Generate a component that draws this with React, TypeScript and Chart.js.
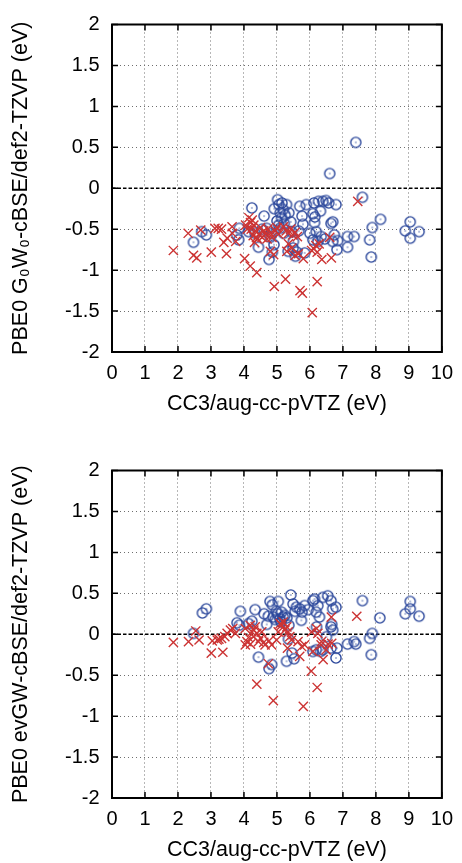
import React, { useEffect, useRef } from "react";
import { Chart, registerables } from "chart.js";

Chart.register(...registerables);

// ---------- data ----------
const xTickLabels = ["0", "1", "2", "3", "4", "5", "6", "7", "8", "9", "10"];
const yTickLabels = ["-2", "-1.5", "-1", "-0.5", "0", "0.5", "1", "1.5", "2"];

const xTitle = "CC3/aug-cc-pVTZ (eV)";
const topYTitle = "PBE0 G\u2080W\u2080-cBSE/def2-TZVP (eV)";
const bottomYTitle = "PBE0 evGW-cBSE/def2-TZVP (eV)";

// Top panel (G0W0): circles
const topCircles: [number, number][] = [
  [2.47, -0.66], [2.72, -0.53], [2.86, -0.57], [3.78, -0.57], [3.84, -0.63], [3.86, -0.49],
  [4.14, -0.53], [4.24, -0.24], [4.34, -0.55], [4.44, -0.72], [4.61, -0.34], [4.69, -0.49],
  [4.76, -0.87], [4.84, -0.55], [4.86, -0.78], [4.91, -0.69], [4.92, -0.25], [5.02, -0.14],
  [5.06, -0.2], [5.09, -0.49], [5.14, -0.36], [5.19, -0.26], [5.22, -0.43], [5.29, -0.2],
  [5.36, -0.3], [5.42, -0.41], [5.34, -0.77], [5.44, -0.53], [5.49, -0.73], [5.56, -0.83],
  [5.5, -0.65], [5.69, -0.22], [5.76, -0.34], [5.79, -0.44], [5.66, -0.52], [5.84, -0.79],
  [5.89, -0.2], [6.09, -0.31], [6.12, -0.18], [6.26, -0.16], [6.14, -0.42], [6.19, -0.53],
  [6.09, -0.63], [6.24, -0.65], [6.32, -0.28], [6.39, -0.16], [6.49, -0.15], [6.57, -0.18],
  [6.79, -0.2], [6.6, 0.18], [6.64, -0.43], [6.69, -0.41], [6.74, -0.57], [6.69, -0.65],
  [6.82, -0.75], [6.84, -0.64], [6.34, -0.59], [7.14, -0.59], [7.14, -0.72], [7.34, -0.59],
  [7.39, 0.56], [7.59, -0.11], [7.81, -0.63], [7.86, -0.84], [7.89, -0.48], [8.14, -0.38],
  [8.89, -0.52], [9.04, -0.41], [9.04, -0.61], [9.31, -0.53], [5.1, -0.3], [5.0, -0.4],
  [4.8, -0.6], [5.2, -0.55], [6.0, -0.55], [6.15, -0.35], [5.05, -0.45], [5.25, -0.33],
  [4.55, -0.5], [5.6, -0.78], [6.45, -0.62], [5.15, -0.18],
];

// Top panel (G0W0): crosses
const topCrosses: [number, number][] = [
  [1.86, -0.76], [2.31, -0.55], [2.47, -0.82], [2.57, -0.85], [2.69, -0.51], [3.01, -0.78],
  [3.12, -0.49], [3.22, -0.49], [3.32, -0.5], [3.39, -0.66], [3.47, -0.8], [3.49, -0.61],
  [3.64, -0.47], [3.65, -0.55], [3.75, -0.65], [4.02, -0.86], [4.19, -0.95], [4.39, -1.03],
  [4.15, -0.36], [4.2, -0.42], [4.25, -0.39], [4.3, -0.45], [4.22, -0.5], [4.35, -0.52],
  [4.28, -0.58], [4.4, -0.62], [4.32, -0.66], [4.45, -0.56], [4.5, -0.48], [4.55, -0.6],
  [4.1, -0.5], [4.05, -0.45], [4.6, -0.52], [4.65, -0.56], [4.72, -0.5], [4.8, -0.55],
  [4.85, -0.6], [4.95, -0.52], [5.0, -0.48], [5.05, -0.56], [4.8, -0.77], [4.9, -0.81],
  [4.92, -1.2], [5.26, -1.11], [5.2, -0.47], [5.28, -0.52], [5.35, -0.55], [5.42, -0.5],
  [5.48, -0.57], [5.55, -0.54], [5.62, -0.59], [5.35, -0.68], [5.3, -0.77], [5.45, -0.73],
  [5.55, -0.82], [5.65, -0.8], [5.8, -0.86], [5.7, -1.25], [5.77, -1.28], [6.05, -0.76],
  [6.12, -0.74], [6.18, -0.7], [6.22, -0.78], [6.28, -0.68], [6.22, -1.14], [6.07, -1.52],
  [6.36, -0.87], [6.65, -0.85], [6.6, -0.6], [7.45, -0.16], [4.38, -0.6], [4.7, -0.62],
];

// Bottom panel (evGW): circles
const bottomCircles: [number, number][] = [
  [2.47, 0.01], [2.74, 0.26], [2.86, 0.31], [3.79, 0.14], [3.86, 0.11], [3.89, 0.28],
  [4.14, 0.13], [4.24, 0.16], [4.34, 0.3], [4.44, -0.28], [4.61, 0.25], [4.69, 0.12],
  [4.76, -0.42], [4.84, -0.37], [4.79, 0.4], [4.86, 0.36], [4.89, 0.21], [4.95, 0.18],
  [5.04, 0.4], [5.02, 0.25], [5.09, 0.19], [5.14, 0.27], [5.19, 0.21], [5.24, 0.23],
  [5.29, -0.33], [5.36, 0.11], [5.42, 0.48], [5.49, 0.37], [5.46, -0.23], [5.52, -0.3],
  [5.59, 0.33], [5.69, 0.31], [5.76, 0.27], [5.74, 0.17], [5.84, 0.35], [5.95, 0.3],
  [6.09, 0.41], [6.14, 0.43], [6.19, 0.27], [6.24, 0.35], [6.29, 0.21], [6.39, 0.45],
  [6.54, 0.47], [6.64, 0.41], [6.69, 0.31], [6.79, 0.33], [6.66, 0.12], [6.69, 0.05],
  [6.64, 0.09], [6.5, -0.03], [6.19, -0.19], [6.09, -0.21], [6.32, -0.21], [6.39, -0.19],
  [6.82, -0.17], [6.79, -0.29], [6.64, -0.17], [7.14, -0.12], [7.34, -0.09], [7.39, -0.12],
  [7.59, 0.41], [7.81, -0.05], [7.89, 0.01], [7.86, -0.25], [8.12, 0.2], [8.89, 0.25],
  [9.04, 0.4], [9.04, 0.31], [9.31, 0.22], [5.3, 0.2], [5.12, 0.15], [4.98, 0.28],
  [4.74, 0.22], [5.55, 0.28], [6.2, 0.09], [5.35, -0.06],
];

// Bottom panel (evGW): crosses
const bottomCrosses: [number, number][] = [
  [1.86, -0.1], [2.32, -0.09], [2.54, 0.04], [2.64, -0.07], [3.01, -0.23], [3.04, -0.08],
  [3.19, -0.07], [3.24, -0.06], [3.36, -0.22], [3.32, -0.05], [3.42, -0.03], [3.49, 0.01],
  [3.59, 0.05], [3.66, 0.07], [3.74, 0.01], [4.04, 0.07], [4.09, -0.09], [4.04, -0.13],
  [4.19, 0.11], [4.24, 0.03], [4.29, -0.03], [4.34, 0.09], [4.39, 0.01], [4.44, -0.09],
  [4.54, 0.03], [4.14, -0.04], [4.39, -0.61], [4.64, -0.13], [4.74, -0.36], [4.76, -0.08],
  [4.84, -0.13], [4.89, -0.81], [4.99, -0.07], [5.04, 0.03], [5.1, 0.13], [5.14, 0.11],
  [5.19, 0.15], [5.24, 0.05], [5.32, -0.17], [5.34, 0.03], [5.39, -0.03], [5.44, -0.07],
  [5.3, 0.09], [5.64, -0.09], [5.75, -0.15], [5.69, -0.27], [5.8, -0.88], [5.84, -0.13],
  [6.04, -0.45], [6.05, 0.03], [6.2, 0.07], [6.09, -0.21], [6.22, -0.65], [6.24, 0.01],
  [6.34, -0.13], [6.35, -0.09], [6.4, -0.31], [6.49, -0.19], [6.55, -0.12], [6.65, 0.21],
  [6.66, -0.11], [7.42, 0.22], [4.2, -0.12], [4.5, -0.05], [4.6, -0.1], [4.3, 0.05],
];

const zeroLine: [number, number][] = [[0, 0], [10, 0]];

// ---------- styles ----------
const BLUE = "rgb(44,72,156)";
const RED = "rgb(204,52,52)";
const FONT = "'Liberation Sans', Arial, Helvetica, sans-serif";

function makeCircleImage(): HTMLCanvasElement {
  const c = document.createElement("canvas");
  c.width = 14;
  c.height = 14;
  const g = c.getContext("2d")!;
  g.strokeStyle = BLUE;
  g.lineWidth = 1.4;
  g.beginPath();
  g.arc(7, 7, 5.1, 0, Math.PI * 2);
  g.stroke();
  g.fillStyle = BLUE;
  g.fillRect(6.4, 6.4, 1.2, 1.2);
  return c;
}

const framePlugin = {
  id: "gnuplotFrame",
  afterDatasetsDraw(chart: any) {
    const { ctx, chartArea: a, scales } = chart;
    const tl = 6;
    ctx.save();
    ctx.strokeStyle = "#000";
    ctx.lineWidth = 1.5;
    ctx.beginPath();
    scales.x.ticks.forEach((t: any) => {
      const px = scales.x.getPixelForValue(t.value);
      ctx.moveTo(px, a.bottom);
      ctx.lineTo(px, a.bottom - tl);
      ctx.moveTo(px, a.top);
      ctx.lineTo(px, a.top + tl);
    });
    scales.y.ticks.forEach((t: any) => {
      const py = scales.y.getPixelForValue(t.value);
      ctx.moveTo(a.left, py);
      ctx.lineTo(a.left + tl, py);
      ctx.moveTo(a.right, py);
      ctx.lineTo(a.right - tl, py);
    });
    ctx.stroke();
    ctx.lineWidth = 2;
    ctx.strokeRect(a.left, a.top, a.right - a.left, a.bottom - a.top);
    ctx.restore();
  },
};

const toXY = (arr: [number, number][]) => arr.map(([x, y]) => ({ x, y }));

function Panel({ circles, crosses, yTitle }: { circles: [number, number][]; crosses: [number, number][]; yTitle: string }) {
  const ref = useRef<HTMLCanvasElement | null>(null);
  useEffect(() => {
    if (!ref.current) return;
    const circleImg = makeCircleImage();
    const chart = new Chart(ref.current, {
      type: "scatter",
      data: {
        datasets: [
          {
            label: "crosses",
            data: toXY(crosses),
            pointStyle: "crossRot",
            pointRadius: 6.5,
            borderColor: RED,
            backgroundColor: RED,
            borderWidth: 1.4,
          } as any,
          {
            label: "circles",
            data: toXY(circles),
            pointStyle: circleImg,
            pointRadius: 5,
            borderColor: BLUE,
            backgroundColor: BLUE,
          } as any,
          {
            type: "line",
            label: "zero",
            data: toXY(zeroLine),
            showLine: true,
            borderColor: "#000",
            borderWidth: 1.6,
            borderDash: [3.5, 2],
            pointRadius: 0,
            fill: false,
          } as any,
        ],
      },
      options: {
        responsive: false,
        animation: false,
        events: [],
        layout: { padding: { top: 21, right: 17, left: 0, bottom: 0 } },
        plugins: { legend: { display: false }, tooltip: { enabled: false } },
        scales: {
          x: {
            type: "linear",
            min: 0,
            max: 10,
            afterFit: (s: any) => { s.height = 94; },
            ticks: {
              stepSize: 1,
              color: "#000",
              padding: 9,
              font: { family: FONT, size: 20 },
              callback: (_v: any, i: number) => xTickLabels[i],
            },
            grid: { color: "#6e6e6e", lineWidth: 1, drawTicks: false },
            border: { display: false, dash: [1, 3] },
            title: {
              display: true,
              text: xTitle,
              color: "#000",
              font: { family: FONT, size: 21.5 },
              padding: { top: 0, bottom: 29 },
            },
          },
          y: {
            type: "linear",
            min: -2,
            max: 2,
            afterFit: (s: any) => { s.width = 112; },
            ticks: {
              stepSize: 0.5,
              color: "#000",
              padding: 12.5,
              font: { family: FONT, size: 20 },
              callback: (_v: any, i: number) => yTickLabels[i],
            },
            grid: {
              color: (c: any) => (c.tick && c.tick.value === 0 ? "rgba(0,0,0,0)" : "#6e6e6e"),
              lineWidth: 1,
              drawTicks: false,
            },
            border: { display: false, dash: [1, 3] },
            title: {
              display: true,
              text: yTitle,
              color: "#000",
              font: { family: FONT, size: 21.5 },
              padding: { top: 8, bottom: 0 },
            },
          },
        },
      } as any,
      plugins: [framePlugin],
    });
    return () => chart.destroy();
  }, [circles, crosses, yTitle]);
  return <canvas ref={ref} width={462} height={446} style={{ display: "block", width: 462, height: 446 }} />;
}

export default function App() {
  return (
    <div style={{ position: "fixed", left: 0, top: 0, width: 462, height: 863, overflow: "hidden", background: "#fff" }}>
      <div style={{ position: "absolute", left: 0, top: 0 }}>
        <Panel circles={topCircles} crosses={topCrosses} yTitle={topYTitle} />
      </div>
      <div style={{ position: "absolute", left: 0, top: 446 }}>
        <Panel circles={bottomCircles} crosses={bottomCrosses} yTitle={bottomYTitle} />
      </div>
    </div>
  );
}
